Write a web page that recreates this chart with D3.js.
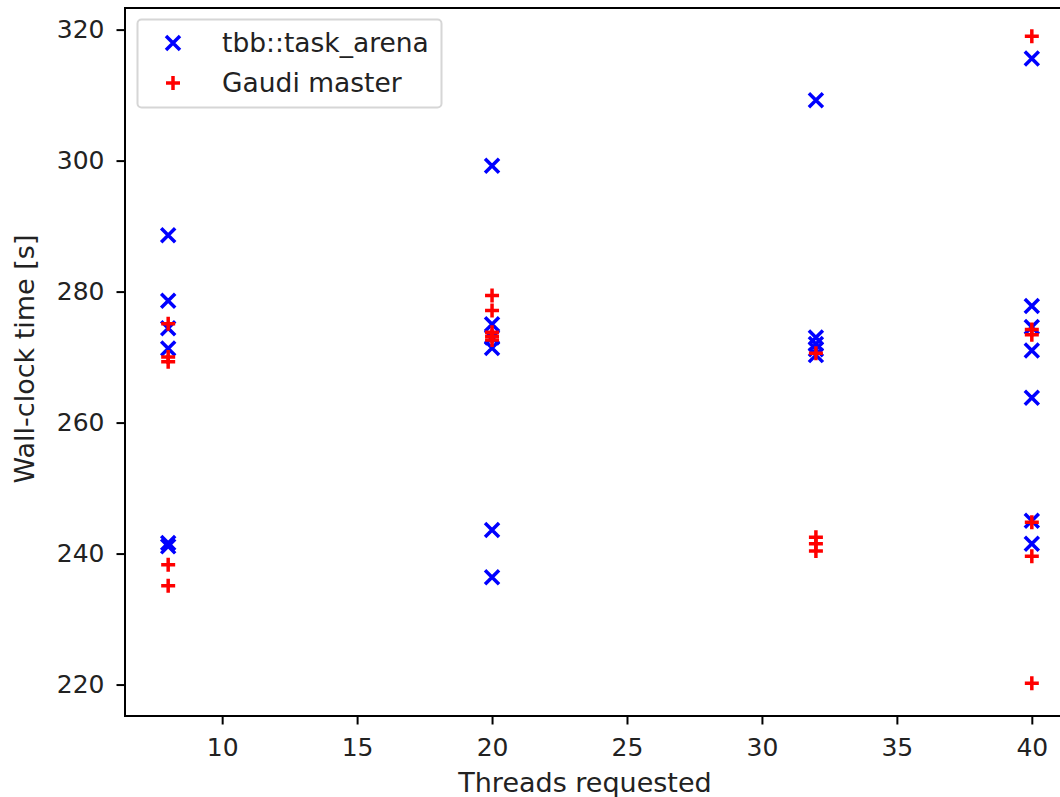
<!DOCTYPE html>
<html>
<head>
<meta charset="utf-8">
<script src="https://cdn.jsdelivr.net/npm/d3@7"></script>
<style>
  body { margin: 0; background: #fff; }
  svg { display: block; font-family: "DejaVu Sans", sans-serif; }
</style>
</head>
<body>
<svg id="canvas"></svg>
<script>
// wall-clock time per run
let arenaThreads = [8, 8, 8, 8, 8, 8,
                    20, 20, 20, 20, 20, 20,
                    32, 32, 32, 32, 32,
                    40, 40, 40, 40, 40, 40, 40]
let arenaTimes = [288.6, 278.6, 274.4, 271.3, 241.6, 241.1,
                  299.2, 275.0, 273.0, 271.4, 243.6, 236.4,
                  309.2, 273.0, 272.0, 271.2, 270.3,
                  315.6, 277.8, 274.6, 271.0, 263.8, 245.0, 241.5]

let gaudiThreads = [8, 8, 8, 8, 8,
                    20, 20, 20, 20, 20,
                    32, 32, 32, 32,
                    40, 40, 40, 40, 40, 40]
let gaudiTimes = [275.1, 270.0, 269.3, 238.3, 235.1,
                  279.4, 277.1, 273.8, 273.2, 272.6,
                  270.6, 242.5, 241.5, 240.4,
                  319.0, 274.2, 273.4, 244.8, 239.6, 220.2]

let xTicks = [10, 15, 20, 25, 30, 35, 40]
let yTicks = [220, 240, 260, 280, 300, 320]
let seriesNames = ['tbb::task_arena', 'Gaudi master']

let width = 1060
let height = 797
let plotLeft = 125, plotRight = 1075, plotTop = 8, plotBottom = 716
let tickFont = 25
let labelFont = 27

let svg = d3.select('#canvas')
            .attr('width', width)
            .attr('height', height)

let xScale = d3.scaleLinear().domain([6.4, 41.6]).range([plotLeft, plotRight])
let yScale = d3.scaleLinear().domain([215.2, 323.3]).range([plotBottom, plotTop])

let drawAxes = () => {
  let xAxis = d3.axisBottom(xScale).tickValues(xTicks).tickSize(8.5).tickSizeOuter(0).tickPadding(8)
  let yAxis = d3.axisLeft(yScale).tickValues(yTicks).tickSize(8.5).tickSizeOuter(0).tickPadding(12)

  let gx = svg.append('g').attr('transform', `translate(0,${plotBottom})`).call(xAxis)
  let gy = svg.append('g').attr('transform', `translate(${plotLeft},0)`).call(yAxis)

  for (let g of [gx, gy]) {
    g.select('.domain').remove()
    g.selectAll('line').attr('stroke', '#000').attr('stroke-width', 2)
    g.selectAll('text')
     .attr('fill', '#222')
     .style('font-size', tickFont + 'px')
     .style('font-family', '"DejaVu Sans", sans-serif')
  }
  gx.selectAll('text').attr('dy', '0.95em')

  // spines
  svg.append('rect')
     .attr('x', plotLeft).attr('y', plotTop)
     .attr('width', plotRight - plotLeft).attr('height', plotBottom - plotTop)
     .attr('fill', 'none').attr('stroke', '#000').attr('stroke-width', 2)

  svg.append('text')
     .attr('x', 585)
     .attr('y', 792)
     .attr('text-anchor', 'middle')
     .attr('fill', '#222')
     .style('font-size', labelFont + 'px')
     .text('Threads requested')

  svg.append('text')
     .attr('transform', `translate(34,${(plotTop + plotBottom) / 2 - 3}) rotate(-90)`)
     .attr('text-anchor', 'middle')
     .attr('fill', '#222')
     .style('font-size', labelFont + 'px')
     .text('Wall-clock time [s]')
}

let crossPath = (r) => `M${-r},${-r}L${r},${r}M${-r},${r}L${r},${-r}`
let plusPath = (r) => `M${-r},0L${r},0M0,${-r}L0,${r}`

let drawPoints = () => {
  svg.append('g')
     .selectAll('path')
     .data(arenaTimes)
     .enter()
     .append('path')
     .attr('transform', (d, i) => `translate(${xScale(arenaThreads[i])},${yScale(d)})`)
     .attr('d', crossPath(7))
     .attr('stroke', 'blue')
     .attr('stroke-width', 3.5)
     .attr('fill', 'none')

  svg.append('g')
     .selectAll('path')
     .data(gaudiTimes)
     .enter()
     .append('path')
     .attr('transform', (d, i) => `translate(${xScale(gaudiThreads[i])},${yScale(d)})`)
     .attr('d', plusPath(7))
     .attr('stroke', 'red')
     .attr('stroke-width', 3.5)
     .attr('fill', 'none')
}

let drawLegend = () => {
  let legend = svg.append('g').attr('id', 'legend')
  legend.append('rect')
        .attr('x', 137.5).attr('y', 19.5)
        .attr('width', 304).attr('height', 88)
        .attr('rx', 4)
        .attr('fill', 'rgba(255,255,255,0.8)')
        .attr('stroke', '#d6d6d6')
        .attr('stroke-width', 2)

  let markers = [crossPath(7), plusPath(7)]
  let colors = ['blue', 'red']
  seriesNames.forEach((name, i) => {
    let y = 43 + i * 40
    legend.append('path')
          .attr('transform', `translate(173,${y})`)
          .attr('d', markers[i])
          .attr('stroke', colors[i])
          .attr('stroke-width', 3.5)
          .attr('fill', 'none')
    legend.append('text')
          .attr('x', 222)
          .attr('y', y)
          .attr('dy', '0.35em')
          .attr('fill', '#222')
          .style('font-size', 26.5 + 'px')
          .text(name)
  })
}

drawAxes()
drawPoints()
drawLegend()
</script>
</body>
</html>
